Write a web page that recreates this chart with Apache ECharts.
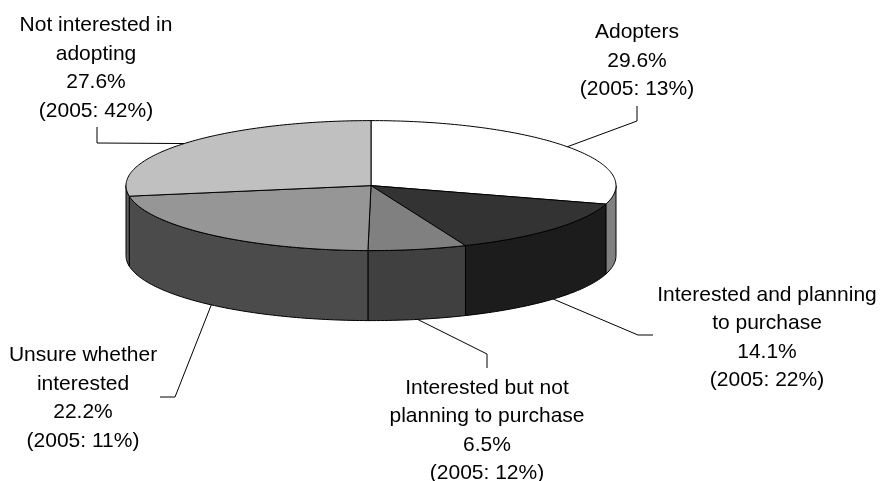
<!DOCTYPE html>
<html>
<head>
<meta charset="utf-8">
<script src="https://cdn.jsdelivr.net/npm/echarts@6/dist/echarts.min.js"></script>
<style>
  html, body { margin: 0; padding: 0; background: #ffffff; }
  #chart { width: 880px; height: 481px; }
</style>
</head>
<body>
<div id="chart"></div>
<script>
// Survey groups, clockwise from 12 o'clock
const categories = [
  'Adopters',
  'Interested and planning\nto purchase',
  'Interested but not\nplanning to purchase',
  'Unsure whether\ninterested',
  'Not interested in\nadopting'
];
const share2007 = [29.6, 14.1, 6.5, 22.2, 27.6];
const share2005 = [13, 22, 12, 11, 42];

// Face and wall shades for each slice
const topColors  = ['#ffffff', '#333333', '#808080', '#969696', '#c0c0c0'];
const sideColors = ['#808080', '#1c1c1c', '#404040', '#4b4b4b', '#606060'];

// Tilted-disc geometry (pixels)
const PIE = { cx: 371, cy: 185.6, rx: 245, ry: 65, depth: 70 };

// Label block centres and leader-line bends
const labelLayout = [
  { x: 637, y: 61,    bend: [[637, 121], [637, 106]] },
  { x: 767, y: 337.5, bend: [[638, 335], [653, 335]] },
  { x: 487, y: 430.5, bend: [[487, 354], [487, 368]] },
  { x: 83,  y: 398,   bend: [[175, 397], [160, 397]] },
  { x: 96,  y: 68,    bend: [[97, 143],  [97, 127]] }
];

const total = share2007.reduce((a, b) => a + b, 0);
const startAngles = [];
share2007.reduce((acc, v) => { startAngles.push(acc / total * Math.PI * 2); return acc + v; }, 0);

function rim(theta, dy) {
  return [PIE.cx + PIE.rx * Math.sin(theta), PIE.cy - PIE.ry * Math.cos(theta) + dy];
}
function arc(a0, a1, dy) {
  const pts = [];
  const n = Math.max(2, Math.ceil(Math.abs(a1 - a0) / (Math.PI / 180)));
  for (let k = 0; k <= n; k++) pts.push(rim(a0 + (a1 - a0) * k / n, dy));
  return pts;
}

function renderSlice(params, api) {
  const i = params.dataIndex;
  const value = api.value(0);
  const a0 = startAngles[i];
  const a1 = a0 + value / total * Math.PI * 2;
  const children = [];

  // front wall (visible between 90° and 270°)
  const s = Math.max(a0, Math.PI / 2);
  const e = Math.min(a1, Math.PI * 1.5);
  if (s < e) {
    const wall = arc(s, e, 0).concat(arc(e, s, PIE.depth));
    children.push({
      type: 'polygon',
      shape: { points: wall },
      style: { fill: sideColors[i], stroke: '#000', lineWidth: 1 }
    });
  }

  // top face
  const face = [[PIE.cx, PIE.cy]].concat(arc(a0, a1, 0));
  children.push({
    type: 'polygon',
    shape: { points: face },
    style: { fill: topColors[i], stroke: '#000', lineWidth: 1, lineJoin: 'round' }
  });

  // leader line from the slice's middle
  const mid = (a0 + a1) / 2;
  const front = mid > Math.PI / 2 && mid < Math.PI * 1.5;
  const anchor = rim(mid, front ? PIE.depth : 0);
  const lay = labelLayout[i];
  children.push({
    type: 'polyline',
    shape: { points: [anchor].concat(lay.bend) },
    style: { fill: null, stroke: '#000', lineWidth: 1 }
  });

  // label text
  children.push({
    type: 'text',
    style: {
      x: lay.x,
      y: lay.y,
      text: categories[i] + '\n' + value.toFixed(1) + '%\n(2005: ' + share2005[i] + '%)',
      align: 'center',
      verticalAlign: 'middle',
      fontFamily: 'Liberation Sans',
      fontSize: 21,
      lineHeight: 28.5,
      fill: '#000'
    }
  });

  return { type: 'group', children: children };
}

const chart = echarts.init(document.getElementById('chart'), null, { renderer: 'canvas' });
chart.setOption({
  backgroundColor: '#ffffff',
  animation: false,
  series: [{
    type: 'custom',
    coordinateSystem: 'none',
    renderItem: renderSlice,
    data: share2007.map(v => [v])
  }]
});
</script>
</body>
</html>
